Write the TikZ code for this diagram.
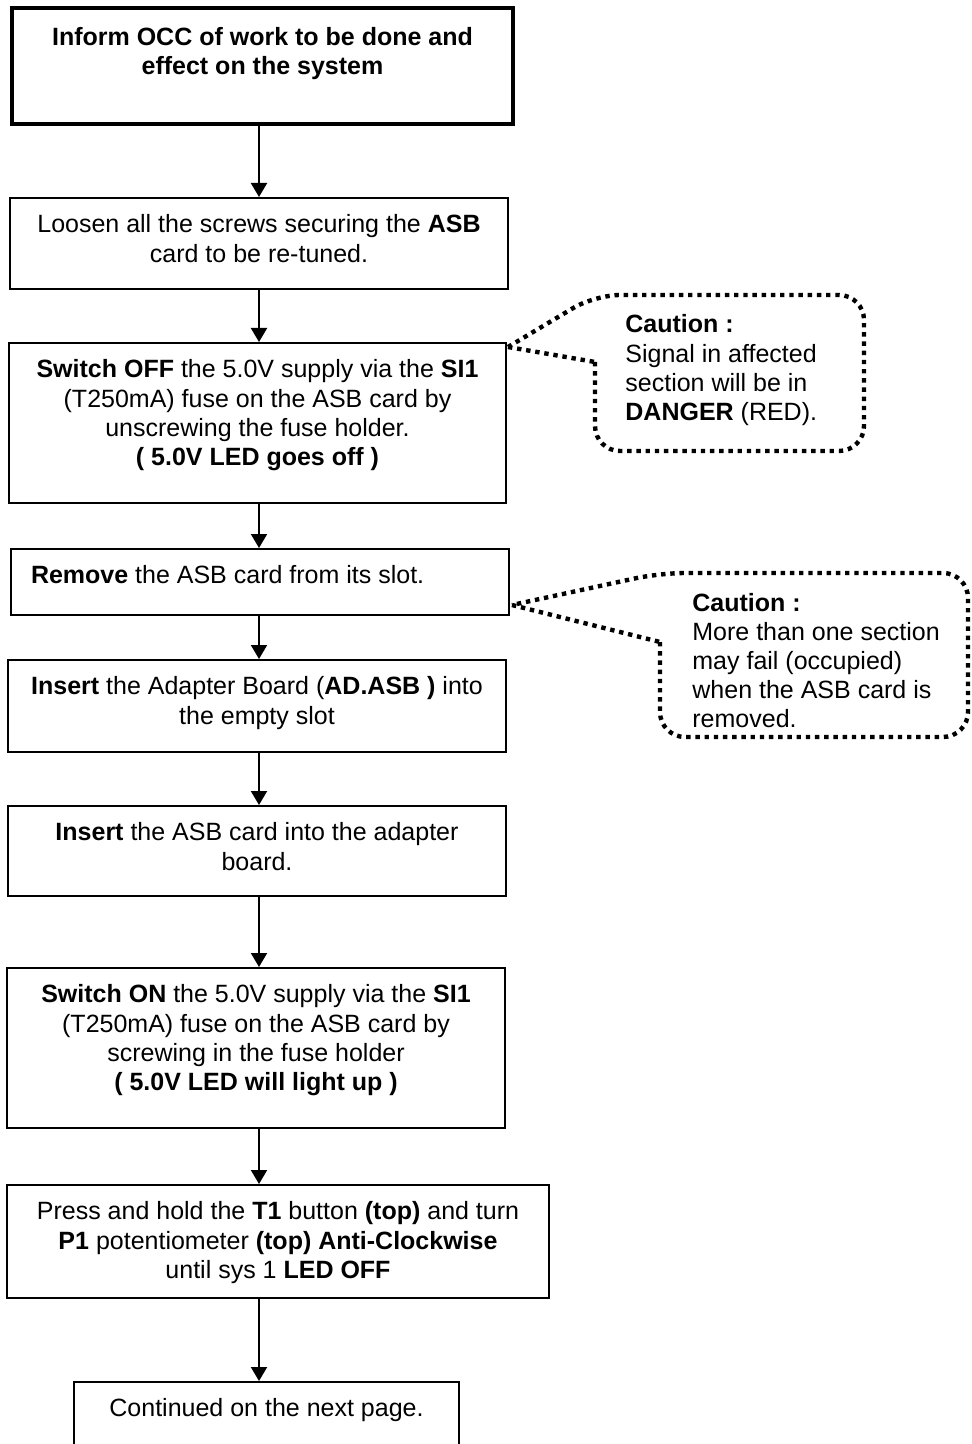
\documentclass[tikz,border=0pt]{standalone}
\usepackage{fontspec}
\setmainfont{Liberation Sans}
\usetikzlibrary{arrows.meta}

% text block of a step box: width, height, top padding, lines
\newcommand\stepbody[4]{\parbox[c][#2][t]{#1}{\vspace*{#3}\centering\strut #4}}
\newcommand\stepbodyleft[4]{\parbox[c][#2][t]{#1}{\vspace*{#3}\raggedright\hspace*{10pt}\strut #4}}

\begin{document}
\begin{tikzpicture}[x=0.5pt,y=-0.5pt,
  every node/.style={font=\fontsize{12.5}{14.6}\selectfont},
  stepbox/.style={draw, line width=1pt, inner sep=0pt},
  headbox/.style={stepbox, line width=2.2pt},
  flow/.style={line width=1pt, -{Triangle[length=7pt,width=8pt]}},
  callout/.style={line width=2.2pt, dash pattern=on 2.2pt off 2.4pt, line cap=butt},
  calltext/.style={anchor=base west, inner sep=0pt}]
\clip (0,0) rectangle (971,1444);

% process steps
\node[headbox] (b1) at (262.5,66)
  {\stepbody{250.5pt}{58pt}{8.6pt}{\bfseries Inform OCC of work to be done and\\ effect on the system}};
\node[stepbox] (b2) at (259,243.5)
  {\stepbody{249pt}{45.5pt}{7.2pt}{Loosen all the screws securing the \textbf{ASB}\\ card to be re-tuned.}};
\node[stepbox] (b3) at (257.5,423)
  {\stepbody{248.5pt}{80pt}{7.2pt}{\textbf{Switch OFF} the 5.0V supply via the \textbf{SI1}\\ (T250mA) fuse on the ASB card by\\ unscrewing the fuse holder.\\ \textbf{( 5.0V LED goes off )}}};
\node[stepbox] (b4) at (260,582)
  {\stepbodyleft{249pt}{33pt}{7.2pt}{\textbf{Remove} the ASB card from its slot.}};
\node[stepbox] (b5) at (257,706)
  {\stepbody{249pt}{46pt}{7.2pt}{\textbf{Insert} the Adapter Board (\textbf{AD.ASB )} into\\ the empty slot}};
\node[stepbox] (b6) at (257,851)
  {\stepbody{249pt}{45pt}{7.2pt}{\textbf{Insert} the ASB card into the adapter\\ board.}};
\node[stepbox] (b7) at (256,1048)
  {\stepbody{249pt}{80pt}{7.2pt}{\textbf{Switch ON} the 5.0V supply via the \textbf{SI1}\\ (T250mA) fuse on the ASB card by\\ screwing in the fuse holder\\ \textbf{( 5.0V LED will light up )}}};
\node[stepbox] (b8) at (278,1241.5)
  {\stepbody{271pt}{56.5pt}{7.2pt}{Press and hold the \textbf{T1} button \textbf{(top)} and turn\\ \textbf{P1} potentiometer \textbf{(top) Anti-Clockwise}\\ until sys 1 \textbf{LED OFF}}};
\node[stepbox] (b9) at (266.5,1422)
  {\stepbody{192.5pt}{40pt}{7.2pt}{Continued on the next page.}};

% flow arrows
\coordinate (ax) at (259,0);
\draw[flow] (b1.south -| ax) -- (b2.north -| ax);
\draw[flow] (b2.south -| ax) -- (b3.north -| ax);
\draw[flow] (b3.south -| ax) -- (b4.north -| ax);
\draw[flow] (b4.south -| ax) -- (b5.north -| ax);
\draw[flow] (b5.south -| ax) -- (b6.north -| ax);
\draw[flow] (b6.south -| ax) -- (b7.north -| ax);
\draw[flow] (b7.south -| ax) -- (b8.north -| ax);
\draw[flow] (b8.south -| ax) -- (b9.north -| ax);

% caution callout for the SI1 fuse step
\coordinate (tip1) at (508,347);
\draw[callout, rounded corners=12.5pt]
  (595,362) -- (595,451) -- (864,451) -- (864,295) -- (595,295) -- (tip1)
  (tip1) -- (595,362);
\node[calltext] (k1) at (625,333)
  {\parbox[t]{130pt}{\raggedright\textbf{Caution :}\\ Signal in affected\\ section will be in\\ \textbf{DANGER} (RED).}};

% caution callout for removing the card
\coordinate (tip2) at (512,605);
\draw[callout, rounded corners=12.5pt]
  (660,642) -- (660,737) -- (968,737) -- (968,573) -- (660,573) -- (tip2)
  (tip2) -- (660,642);
\node[calltext] (k2) at (692,611)
  {\parbox[t]{140pt}{\raggedright\textbf{Caution :}\\ More than one section\\ may fail (occupied)\\ when the ASB card is\\ removed.}};
\end{tikzpicture}
\end{document}
